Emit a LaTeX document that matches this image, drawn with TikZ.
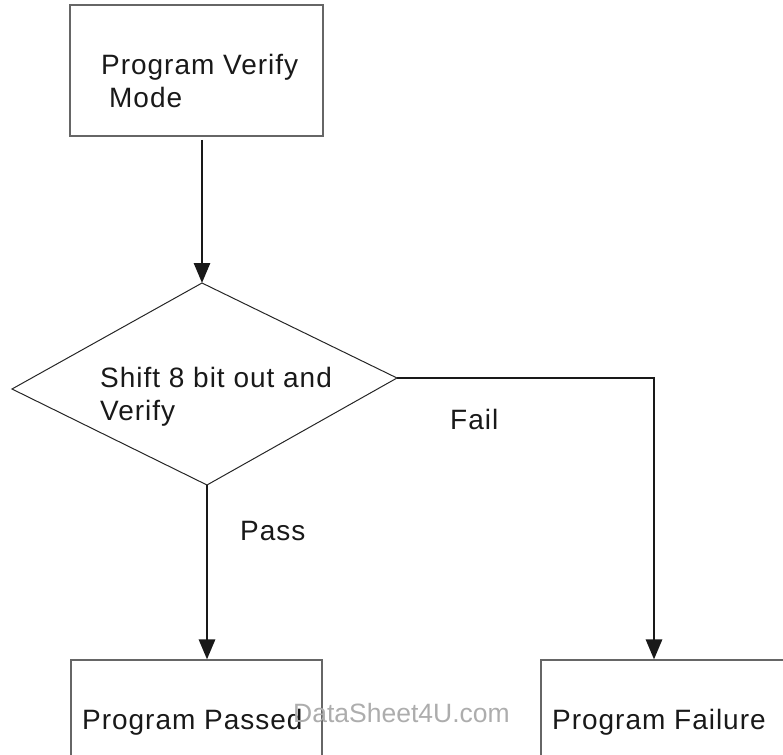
\documentclass[tikz,border=0pt]{standalone}
\usepackage{fontspec}
\setmainfont{Liberation Sans}
\newfontfamily\lblfont[LetterSpace=3.5]{Liberation Sans}
\usetikzlibrary{arrows.meta}
\begin{document}
\begin{tikzpicture}[x=1pt,y=-1pt,
  box/.style={draw=black!60, line width=1.1pt, inner sep=0pt},
  outline/.style={draw=black!85, line width=1pt, line join=miter},
  flow/.style={draw=black!90, line width=2.8pt, -{Triangle[length=20pt,width=16pt]}},
  txt/.style={anchor=base west, inner sep=0pt, font=\lblfont\fontsize{28}{33}\selectfont, text=black!90},
  mark4u/.style={anchor=base west, inner sep=0pt, font=\fontsize{26.5}{30}\selectfont, text=black!32},
]
\useasboundingbox (0,0) rectangle (783,754);
\clip (0,0) rectangle (783,754);

% start box
\node[box, minimum width=253pt, minimum height=131pt] (verify) at (196.5,70.5) {};
\node[txt] (verifyA) at (101,75) {Program Verify};
\node[txt] (verifyB) at (109,108) {Mode};

% decision diamond
\coordinate (dT) at (202,283);
\coordinate (dL) at (12,389);
\coordinate (dR) at (397,378);
\coordinate (dB) at (207,485);
\draw[outline] (dT) -- (dR) -- (dB) -- (dL) -- cycle;
\node[txt] (shiftA) at (100,387) {Shift 8 bit out and};
\node[txt] (shiftB) at (100,420) {Verify};

% result boxes (run past the lower edge)
\node[box, minimum width=251pt, minimum height=110pt] (passed) at (196.5,715) {};
\node[txt] (passedT) at (82,729) {Program Passed};
\node[box, minimum width=260pt, minimum height=110pt] (failure) at (671,715) {};
\node[txt] (failureT) at (552,729) {Program Failure};

% connectors
\coordinate (a1) at (202,140);
\draw[flow] (a1) -- (dT);
\draw[flow] (dB) -- (dB |- passed.north);
\coordinate (fc) at (654,378);
\draw[flow] (dR) -- (fc) -- (fc |- failure.north);

% branch labels
\node[txt] (passL) at (240,540) {Pass};
\node[txt] (failL) at (450,429) {Fail};

% watermark
\node[mark4u] (wm) at (293,722) {DataSheet4U.com};
\end{tikzpicture}
\end{document}
